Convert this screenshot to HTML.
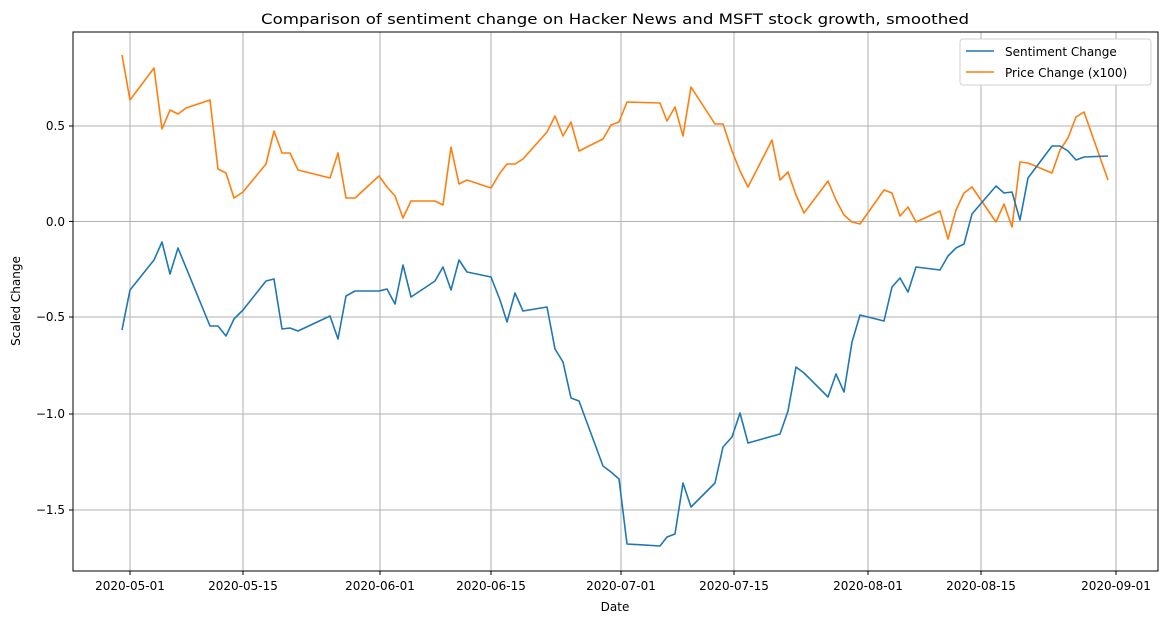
<!DOCTYPE html>
<html><head><meta charset="utf-8"><style>body{margin:0;background:#fff}svg{display:block;font-family:"DejaVu Sans","Liberation Sans",sans-serif}</style></head><body>
<svg width="1167" height="624" viewBox="0 0 1167 624" xmlns="http://www.w3.org/2000/svg">
<rect width="1167" height="624" fill="#fff"/>
<g stroke="#b0b0b0" stroke-width="1">
<line x1="130" y1="32" x2="130" y2="571"/><line x1="243" y1="32" x2="243" y2="571"/><line x1="380" y1="32" x2="380" y2="571"/><line x1="491" y1="32" x2="491" y2="571"/><line x1="621" y1="32" x2="621" y2="571"/><line x1="734" y1="32" x2="734" y2="571"/><line x1="868" y1="32" x2="868" y2="571"/><line x1="981" y1="32" x2="981" y2="571"/><line x1="1116" y1="32" x2="1116" y2="571"/>
<line x1="73" y1="126" x2="1158" y2="126"/><line x1="73" y1="221.5" x2="1158" y2="221.5"/><line x1="73" y1="317" x2="1158" y2="317"/><line x1="73" y1="414" x2="1158" y2="414"/><line x1="73" y1="510" x2="1158" y2="510"/>
</g>
<g stroke="#000" stroke-width="1">
<line x1="130" y1="571" x2="130" y2="575"/><line x1="243" y1="571" x2="243" y2="575"/><line x1="380" y1="571" x2="380" y2="575"/><line x1="491" y1="571" x2="491" y2="575"/><line x1="621" y1="571" x2="621" y2="575"/><line x1="734" y1="571" x2="734" y2="575"/><line x1="868" y1="571" x2="868" y2="575"/><line x1="981" y1="571" x2="981" y2="575"/><line x1="1116" y1="571" x2="1116" y2="575"/>
<line x1="69" y1="126" x2="73" y2="126"/><line x1="69" y1="221.5" x2="73" y2="221.5"/><line x1="69" y1="317" x2="73" y2="317"/><line x1="69" y1="414" x2="73" y2="414"/><line x1="69" y1="510" x2="73" y2="510"/>
</g>
<polyline fill="none" stroke="#ff7f0e" stroke-width="1.6" stroke-linejoin="round" points="122,55 130,100 154,68 162,129 170,110 178,114 186,108 210,100 218,169 226,173 234,198 243,192 266,164 274,131 282,153 290,153 298,170 330,178 338,153 346,198 355,198 379,176 387,187 395,196 403,218 411,201 435,201 443,205 451,147 459,184 467,180 491,188 500,173 507,164 515,164 523,159 547,132 555,116 563,136 571,122 579,151 603,139 611,125 619,122 627,102 660,103 667,121 675,107 683,136 691,87 715,124 723,124 732,151 740,171 748,187 772,140 780,180 788,172 796,195 804,213 828,181 836,200 844,215 852,222 860,224 884,190 892,193 900,216 908,207 916,222 940,211 948,239 956,210 964,193 972,187 996,222 1004,204 1012,227 1020,162 1028,163 1052,173 1060,150 1068,138 1076,117 1084,112 1108,180"/>
<polyline fill="none" stroke="#1f77b4" stroke-width="1.6" stroke-linejoin="round" points="122,330 130,290 154,260 162,242 170,274 178,248 210,326 218,326 226,336 234,319 243,310 266,281 274,279 282,329 290,328 298,331 330,316 338,339 346,296 355,291 379,291 387,289 395,304 403,265 411,297 435,281 443,267 451,290 459,260 467,272 491,277 500,300 507,322 515,293 523,311 547,307 555,349 563,362 571,398 579,401 603,466 611,472 619,479 627,544 660,546 667,537 675,534 683,483 691,507 715,483 723,447 732,437 740,413 748,443 780,434 788,411 796,367 804,373 828,397 836,374 844,392 852,342 860,315 884,321 892,287 900,278 908,292 916,267 940,270 948,256 956,248 964,244 972,214 996,186 1004,193 1012,192 1020,220 1028,178 1052,146 1060,146 1068,151 1076,160 1084,157 1108,156"/>
<rect x="73" y="32" width="1085" height="539" fill="none" stroke="#000" stroke-width="1"/>
<g font-size="12" fill="#000" text-anchor="middle">
<text x="130" y="590">2020-05-01</text><text x="243" y="590">2020-05-15</text><text x="380" y="590">2020-06-01</text><text x="491" y="590">2020-06-15</text><text x="621" y="590">2020-07-01</text><text x="734" y="590">2020-07-15</text><text x="868" y="590">2020-08-01</text><text x="981" y="590">2020-08-15</text><text x="1116" y="590">2020-09-01</text>
<text x="615" y="611">Date</text>
</g>
<g font-size="12" fill="#000" text-anchor="end">
<text x="65" y="130">0.5</text><text x="65" y="226">0.0</text><text x="65" y="321">−0.5</text><text x="65" y="418">−1.0</text><text x="65" y="514">−1.5</text>
</g>
<text x="20" y="301" font-size="12" text-anchor="middle" transform="rotate(-90 20 301)">Scaled Change</text>
<text x="615" y="24" font-size="14.5" text-anchor="middle" textLength="708" lengthAdjust="spacingAndGlyphs">Comparison of sentiment change on Hacker News and MSFT stock growth, smoothed</text>
<rect x="960" y="39" width="191" height="46" rx="3" fill="#fff" stroke="#d0d0d0"/>
<line x1="966" y1="51" x2="994" y2="51" stroke="#1f77b4" stroke-width="1.6"/>
<line x1="966" y1="72" x2="994" y2="72" stroke="#ff7f0e" stroke-width="1.6"/>
<text x="1005" y="56" font-size="12">Sentiment Change</text>
<text x="1005" y="77" font-size="12">Price Change (x100)</text>
</svg>
</body></html>
